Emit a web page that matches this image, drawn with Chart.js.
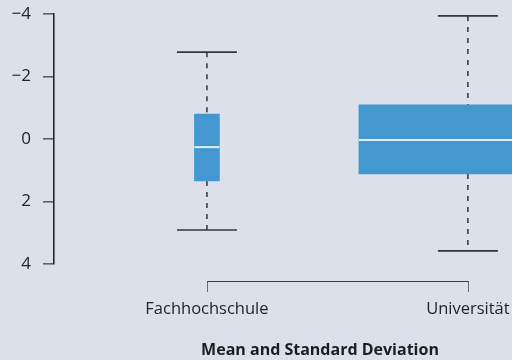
<!DOCTYPE html>
<html>
<head>
<meta charset="utf-8">
<script src="https://cdn.jsdelivr.net/npm/chart.js@4.4.1/dist/chart.umd.min.js"></script>
<style>
  html, body { margin: 0; padding: 0; background: #dbe0eb; }
  #wrap { width: 512px; height: 360px; position: relative; }
</style>
</head>
<body>
<div id="wrap"><canvas id="chart" width="512" height="360"></canvas></div>
<script>
// Box summary per school type (axis runs downward: negative values at top)
const categories   = ['Fachhochschule', 'Universität'];
const whiskerLow   = [-2.78, -3.94];
const quartileLow  = [-0.80, -1.09];
const medians      = [0.26, 0.03];
const quartileHigh = [1.34, 1.12];
const whiskerHigh  = [2.91, 3.58];
const yTicks       = [-4, -2, 0, 2, 4];
const xTitle       = 'Mean and Standard Deviation';

const FONT = '"Open Sans"';
const BOX_COLOR = '#4399cf';
const boxWidths = [25, 218];

const pos = i => i + 1;

// one floating bar per category (own width each)
const boxDatasets = categories.map((c, i) => ({
  type: 'bar',
  data: [{ x: pos(i), y: [quartileLow[i], quartileHigh[i]] }],
  backgroundColor: BOX_COLOR,
  borderWidth: 0,
  barThickness: boxWidths[i],
  grouped: false,
  order: 2
}));

// dashed whiskers from the box edges out to the caps
const whiskerDatasets = [];
categories.forEach((c, i) => {
  [[whiskerLow[i], quartileLow[i]], [quartileHigh[i], whiskerHigh[i]]].forEach(([a, b]) => {
    whiskerDatasets.push({
      type: 'line',
      data: [{ x: pos(i), y: a }, { x: pos(i), y: b }],
      borderColor: '#3a3d44',
      borderWidth: 1.6,
      borderDash: [5, 6],
      pointRadius: 0,
      order: 3
    });
  });
});

const capDataset = {
  type: 'scatter',
  data: categories.flatMap((c, i) => [{ x: pos(i), y: whiskerLow[i] }, { x: pos(i), y: whiskerHigh[i] }]),
  pointStyle: 'line',
  pointRadius: 30,
  pointHoverRadius: 30,
  borderColor: '#33363c',
  pointBorderColor: '#33363c',
  pointBorderWidth: 1.6,
  order: 1
};

const medianDataset = {
  type: 'scatter',
  data: categories.map((c, i) => ({ x: pos(i), y: medians[i] })),
  pointStyle: 'line',
  pointRadius: boxWidths.map(w => w / 2),
  pointHoverRadius: boxWidths.map(w => w / 2),
  pointBorderColor: 'rgba(236,242,250,0.95)',
  pointBorderWidth: 2,
  order: 0
};

// trimmed x axis: bracket spanning first to last category, plus the axis caption
const bracketAxis = {
  id: 'bracketAxis',
  afterDraw(chart) {
    const { ctx, chartArea, scales } = chart;
    const x1 = scales.x.getPixelForValue(1);
    const x2 = scales.x.getPixelForValue(categories.length);
    const y = chartArea.bottom + 17;
    ctx.save();
    ctx.lineWidth = 1;
    ctx.strokeStyle = '#6c6f76';
    ctx.beginPath();
    for (let i = 1; i <= categories.length; i++) {
      const x = Math.round(scales.x.getPixelForValue(i)) + 0.5;
      ctx.moveTo(x, y);
      ctx.lineTo(x, y + 11);
    }
    ctx.stroke();
    ctx.strokeStyle = '#3a3d44';
    ctx.beginPath();
    ctx.moveTo(Math.round(x1), y + 0.5);
    ctx.lineTo(Math.round(x2) + 1, y + 0.5);
    ctx.stroke();

    // caption sits under the chart, a bit right of the axis centre
    ctx.font = 'bold 16px "Open Sans"';
    ctx.fillStyle = '#1b1d21';
    ctx.textAlign = 'center';
    ctx.textBaseline = 'middle';
    ctx.fillText(xTitle, (chartArea.left + chartArea.right) / 2 + 37, chart.height - 10);
    ctx.restore();
  }
};

new Chart(document.getElementById('chart'), {
  type: 'bar',
  data: { datasets: [...boxDatasets, ...whiskerDatasets, capDataset, medianDataset] },
  plugins: [bracketAxis],
  options: {
    responsive: false,
    animation: false,
    events: [],
    layout: { autoPadding: false, padding: { top: 14, right: 0, left: 0, bottom: 0 } },
    plugins: { legend: { display: false }, tooltip: { enabled: false } },
    scales: {
      x: {
        type: 'linear',
        min: 0.414,
        max: 2.169,
        offset: false,
        border: { display: false },
        grid: { display: false },
        afterBuildTicks: s => { s.ticks = categories.map((c, i) => ({ value: pos(i) })); },
        ticks: {
          autoSkip: false,
          maxRotation: 0,
          padding: 27,
          color: '#222428',
          font: { family: FONT, size: 16.5 },
          callback: v => categories[v - 1]
        },
        title: { display: false },
        afterFit: s => { s.height = 96; s.paddingLeft = 0; s.paddingRight = 0; }
      },
      y: {
        reverse: true,
        min: -4,
        max: 4,
        afterBuildTicks: s => { s.ticks = yTicks.map(v => ({ value: v })); },
        border: { display: true, color: '#25272c', width: 1.6 },
        grid: { drawOnChartArea: false, drawTicks: true, tickLength: 11, color: '#5d6067', lineWidth: 1.6 },
        ticks: {
          padding: 12,
          color: '#222428',
          font: { family: FONT, size: 17 },
          callback: v => String(v).replace('-', '\u2212')
        },
        afterFit: s => { s.width = 54; s.paddingTop = 0; s.paddingBottom = 0; }
      }
    }
  }
});
</script>
</body>
</html>
